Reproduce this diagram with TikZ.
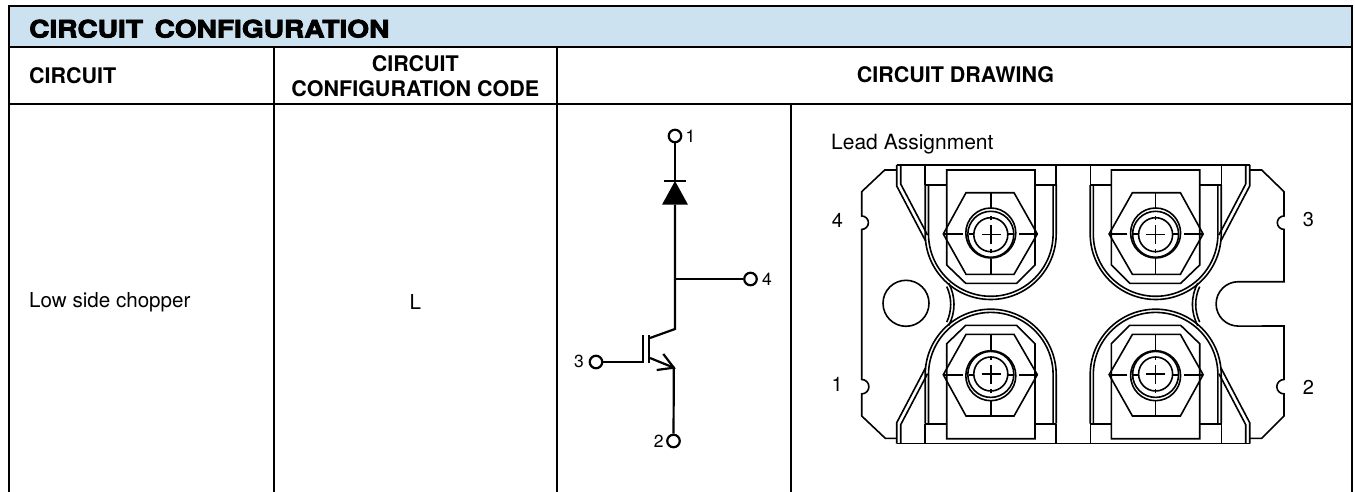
\documentclass[tikz,border=0pt]{standalone}
\usepackage{fontspec}
\setmainfont{TeX Gyre Heros}
\newfontfamily\blk[BoldFeatures={FakeBold=3.5,FakeStretch=1.17,WordSpace=1.5}]{TeX Gyre Heros}
\tikzset{
  tbl/.style={line width=2pt,draw=black},
  mod/.style={line width=1.6pt,draw=black,line join=miter},
  wire/.style={line width=2.2pt,draw=black},
  term/.style={circle,draw=black,line width=2.2pt,fill=white,inner sep=0pt,minimum size=12.5pt},
  hd/.style={font=\fontsize{21.5}{25}\selectfont\bfseries,inner sep=0pt,align=center,text=black},
  body/.style={font=\fontsize{20.6}{24}\selectfont,inner sep=0pt,text=black},
  pin/.style={font=\fontsize{17.5}{20}\selectfont,inner sep=0pt,text=black},
  modpin/.style={font=\fontsize{20}{22}\selectfont,inner sep=0pt,text=black}
}
\newcommand{\quadpart}{%
  % lead
  \draw[mod] (896.7,165)--(896.7,186)--(925.6,241);
  \draw[mod] (900.7,165)--(900.7,184)--(927.5,235);
  % terminal block
  \draw[mod] (924.8,165)--(924.8,185);
  \draw[mod] (1056,165)--(1056,185);
  \draw[mod] (924.8,185)--(946.7,185);
  \draw[mod] (1035,185)--(1056,185);
  \draw[mod] (925.2,185)--(925.2,234) arc[start angle=180,end angle=0,radius=65.5]--(1056.2,185);
  \draw[mod] (928.5,185)--(928.5,234) arc[start angle=180,end angle=0,radius=62.3]--(1053.1,185);
  % plate
  \draw[mod] (946.7,265)--(946.7,170)--(1035,170)--(1035,265)--(1016.7,283.3)--(965.7,283.3)--cycle;
  % hex nut
  \draw[mod] (966,192.7)--(1014,192.7)--(1037.3,234)--(1014,274.3)--(966,274.3)--(943.3,234)--cycle;
  % screw
  \draw[mod] (990.8,233) circle[radius=25];
  \draw[mod] (990.8,234.3) circle[radius=23];
  \draw[mod] (990.8,234.7) circle[radius=17];
  % centre lines
  \draw[mod] (990.8,192.7)--(990.8,208) (990.8,259)--(990.8,274.3);
  \draw[mod] (943.3,234)--(962.7,234) (968.5,234)--(973.8,234) (1007.8,234)--(1013,234) (1019,234)--(1037.3,234);
  \draw[mod] (981.7,234.5)--(1000.5,234.5) (990.8,225)--(990.8,244);
  \draw[mod] (990.8,216)--(990.8,220) (990.8,249)--(990.8,253);
  % web between terminals
  \draw[mod] (908.3,304.5) ++(-28:45.7) arc[start angle=-28,end angle=0,radius=45.7];
  \draw[mod] (908.3,304.5) ++(-25:42.4) arc[start angle=-25,end angle=0,radius=42.4];
}
\begin{document}
\begin{tikzpicture}[x=1pt,y=1pt,yscale=-1]
\useasboundingbox (0,0) rectangle (1355,492);
\fill[white] (0,0) rectangle (1355,492);
% table
\fill[fill={rgb,255:red,205;green,226;blue,240}] (9,6) rectangle (1352,47.3);
\draw[tbl] (9,492)--(9,6)--(1352,6)--(1352,492);
\draw[tbl] (9,47.3)--(1352,47.3);
\draw[tbl] (9,104.3)--(1352,104.3);
\draw[tbl] (274,47.3)--(274,492);
\draw[tbl] (556.7,47.3)--(556.7,492);
\draw[tbl] (790.7,104.3)--(790.7,492);
\node[hd,anchor=west,font=\blk\bfseries\fontsize{24}{26}\selectfont] (title) at (29,28.7) {CIRCUIT CONFIGURATION};
\node[hd,anchor=west] (h1) at (29,76) {CIRCUIT};
\node[hd] (h2) at (415.3,75.8) {CIRCUIT\\CONFIGURATION CODE};
\node[hd] (h3) at (955.5,75) {CIRCUIT DRAWING};
\node[body,anchor=west] (c1) at (29,302) {Low side chopper};
\node[body] (c2) at (415.3,302) {L};
\node[body,anchor=west,font=\fontsize{21}{24}\selectfont] (la) at (831,144) {Lead Assignment};
% schematic
\node[term] (t1) at (675,136) {};
\node[term] (t4) at (750.5,279) {};
\node[term] (t3) at (596,362) {};
\node[term] (t2) at (673.5,441) {};
\node[pin] (n1) at (690.5,136) {1};
\node[pin] (n4) at (767,279) {4};
\node[pin] (n3) at (579,361.7) {3};
\node[pin] (n2) at (658.7,441) {2};
\coordinate (k) at (675,181);
\coordinate (a) at (675,204.5);
\coordinate (j) at (675,279);
\coordinate (c) at (675,329);
\coordinate (cb) at (650,338);
\coordinate (g) at (642.7,362);
\coordinate (eb) at (650,358);
\coordinate (e) at (673.8,367.7);
\draw[wire] (t1)--(k);
\draw[wire] (664,181)--(686,181);
\fill[black] (k)--(688,204.7)--(662,204.7)--cycle;
\draw[wire] (a)--(c)--(cb);
\draw[wire] (j)--(t4);
\draw[wire] (t3)--(g)--(642.7,335);
\draw[wire] (648.9,335)--(648.9,363);
\draw[wire] (eb)--(e)--(t2);
\draw[wire] (663.3,354)--(e)--(656.7,370);
% module outline
\draw[mod] (896.7,170)--(884.7,170)--(861.7,191.7)--(861.7,216) arc[start angle=-90,end angle=90,radius=6.7]--(861.7,379.5) arc[start angle=-90,end angle=90,radius=7.2]--(861.7,416)--(885.3,438.3)--(896.7,438.3);
\draw[mod] (1249.5,170)--(1261.7,170)--(1284,191.7)--(1284,216) arc[start angle=-90,end angle=-270,radius=6.7]--(1284,281.7)--(1238.3,281.7) arc[start angle=-90,end angle=-270,radius=22.2]--(1284,326)--(1284,379.5) arc[start angle=-90,end angle=-270,radius=7.2]--(1284,416)--(1261.7,438.3)--(1249.5,438.3);
\draw[mod] (896.7,165)--(1249.5,165);
\draw[mod] (896.7,443.5)--(1249.5,443.5);
\draw[mod] (906,303.3) circle[radius=23];
\quadpart
\begin{scope}[shift={(2146.4,0)},xscale=-1]\quadpart\end{scope}
\begin{scope}[shift={(0,608.7)},yscale=-1]\quadpart\end{scope}
\begin{scope}[shift={(2146.4,608.7)},xscale=-1,yscale=-1]\quadpart\end{scope}
\node[modpin] (m4) at (837.5,220) {4};
\node[modpin] (m3) at (1308.3,220) {3};
\node[modpin] (m1) at (837.3,384) {1};
\node[modpin] (m2) at (1308.3,387) {2};
\end{tikzpicture}
\end{document}
